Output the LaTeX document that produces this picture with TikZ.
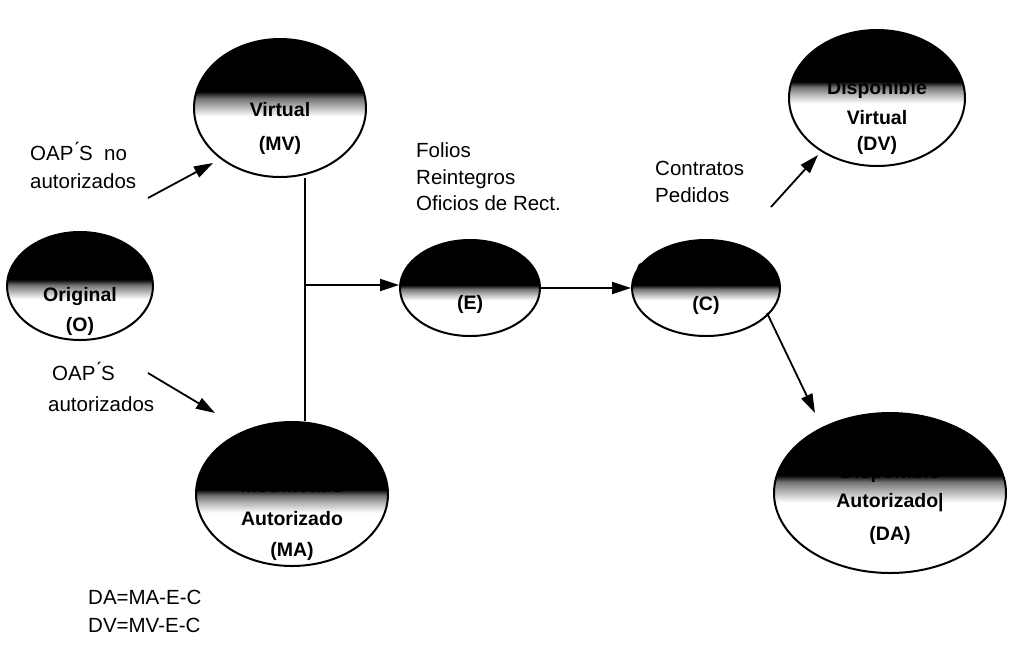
\documentclass[tikz,border=0pt]{standalone}
\usepackage{fontspec}
\setmainfont{Liberation Sans}
\usetikzlibrary{shapes.geometric,arrows.meta}
\pgfdeclareverticalshading{shMV}{100bp}{color(0bp)=(white); color(47bp)=(white); color(50bp)=(black!25); color(53.5bp)=(black!55); color(56bp)=(black); color(100bp)=(black)}
\pgfdeclareverticalshading{shO}{100bp}{color(0bp)=(white); color(44bp)=(white); color(47bp)=(black!25); color(50.5bp)=(black!55); color(53bp)=(black); color(100bp)=(black)}
\pgfdeclareverticalshading{shE}{100bp}{color(0bp)=(white); color(43.5bp)=(white); color(46.5bp)=(black!25); color(49.5bp)=(black!55); color(51.5bp)=(black); color(100bp)=(black)}
\pgfdeclareverticalshading{shDV}{100bp}{color(0bp)=(white); color(48bp)=(white); color(51bp)=(black!25); color(54bp)=(black!55); color(56bp)=(black); color(100bp)=(black)}
\pgfdeclareverticalshading{shDA}{100bp}{color(0bp)=(white); color(47bp)=(white); color(50bp)=(black!25); color(53.5bp)=(black!55); color(55.5bp)=(black); color(100bp)=(black)}
\tikzset{
  oval/.style={ellipse, draw, line width=2pt, inner sep=0pt},
  arr/.style={line width=1.8pt, -{Triangle[length=19pt,width=12pt]}},
  plain/.style={line width=1.8pt},
  lbl/.style={font=\fontsize{20.5}{20.5}\selectfont, inner sep=0pt, anchor=base west},
  intxt/.style={font=\fontsize{19.5}{19.5}\selectfont\bfseries, inner sep=0pt, anchor=base},
}
\begin{document}
\begin{tikzpicture}[x=1pt,y=-1pt]
\useasboundingbox (0,0) rectangle (1009,649);
% ellipses
\node[oval, shading=shMV, minimum width=172pt, minimum height=138pt] (MV) at (280,108) {};
\node[oval, shading=shO, minimum width=146pt, minimum height=108pt] (O) at (80,286) {};
\node[oval, shading=shE, minimum width=140pt, minimum height=96pt] (E) at (470,288) {};
\node[oval, shading=shE, minimum width=148pt, minimum height=96pt] (C) at (706,288) {};
\node[oval, shading=shDV, minimum width=176pt, minimum height=136pt] (DV) at (877,98) {};
\node[oval, shading=shE, minimum width=192pt, minimum height=144pt] (MA) at (292,494) {};
\node[oval, shading=shDA, minimum width=232pt, minimum height=160pt] (DA) at (890,493) {};
% texts in ellipses
\node[intxt] (mv1) at (280,80) {Modificado};
\node[intxt] (mv2) at (280,116) {Virtual};
\node[intxt] (mv3) at (280,150) {(MV)};
\node[intxt] (o1) at (80,301) {Original};
\node[intxt] (o2) at (80,331) {(O)};
\node[intxt] (e1) at (470,276) {Ejercido};
\node[intxt] (e2) at (470,309) {(E)};
\node[intxt] (c1) at (706,276) {Comprometido};
\node[intxt] (c2) at (706,310) {(C)};
\node[intxt] (dv1) at (877,94) {Disponible};
\node[intxt] (dv2) at (877,124) {Virtual};
\node[intxt] (dv3) at (877,150) {(DV)};
\node[intxt] (ma1) at (292,492) {Modificado};
\node[intxt] (ma2) at (292,525) {Autorizado};
\node[intxt] (ma3) at (292,556) {(MA)};
\node[intxt] (da1) at (890,478) {Disponible};
\node[intxt] (da2) at (890,507) {Autorizado|};
\node[intxt] (da3) at (890,540) {(DA)};
% side labels
\node[lbl] (l1) at (30,160) {OAP\'{}S\ \ no};
\node[lbl] (l2) at (30,188) {autorizados};
\node[lbl] (l3) at (52,380) {OAP\'{}S};
\node[lbl] (l4) at (48,411) {autorizados};
\node[lbl] (l5) at (416,157) {Folios};
\node[lbl] (l6) at (416,184) {Reintegros};
\node[lbl] (l7) at (416,210) {Oficios de Rect.};
\node[lbl] (l8) at (655,175) {Contratos};
\node[lbl] (l9) at (655,202) {Pedidos};
\node[lbl] (f1) at (88,604) {DA=MA-E-C};
\node[lbl] (f2) at (88,632) {DV=MV-E-C};
% connectors
\coordinate (a1) at (148,198);
\coordinate (a2) at (213,163);
\coordinate (b1) at (148,373);
\coordinate (b2) at (215,413);
\coordinate (j) at (305,285);
\coordinate (d1) at (771,207);
\coordinate (d2) at (818,155);
\coordinate (g1) at (767,313);
\coordinate (g2) at (815,413);
\draw[arr] (a1) -- (a2);
\draw[arr] (b1) -- (b2);
\draw[plain] (MV.south -| j) -- (MA.north -| j);
\draw[arr] (j) -- (E.west |- j);
\draw[arr] (E.east) -- (C.west);
\draw[arr] (d1) -- (d2);
\draw[arr] (g1) -- (g2);
\end{tikzpicture}
\end{document}
